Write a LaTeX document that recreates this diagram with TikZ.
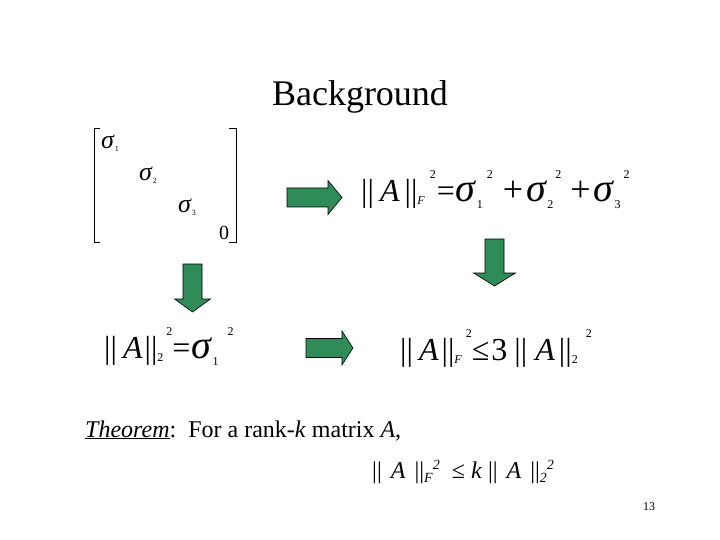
\documentclass[tikz,border=0pt]{standalone}
\usepackage{fontspec}
\setmainfont{Liberation Serif}
\usetikzlibrary{positioning}
\definecolor{arrowgreen}{RGB}{47,139,87}
\newcommand{\lo}[1]{\raisebox{-3pt}{\fontsize{12}{12}\selectfont #1}}
\newcommand{\slo}[1]{\raisebox{-7pt}{\fontsize{12}{12}\selectfont #1}}
\newcommand{\hi}[1]{\raisebox{23pt}{\fontsize{12}{12}\selectfont #1}}
\newcommand{\sig}{{\fontsize{40}{40}\selectfont\textit{σ}}}
\newcommand{\bigop}[1]{{\fontsize{36}{36}\selectfont #1}}
\newcommand{\msig}{{\fontsize{26}{26}\selectfont\textit{σ}}}
\newcommand{\tinysub}[1]{\raisebox{-3pt}{\fontsize{8}{8}\selectfont #1}}
\newcommand{\thlo}[1]{\raisebox{-4pt}{\fontsize{14}{14}\selectfont #1}}
\newcommand{\thhi}[1]{\raisebox{9pt}{\fontsize{14}{14}\selectfont #1}}
\tikzset{fat/.style={draw=black,line width=0.6pt,fill=arrowgreen},
  pics/fatarrow/.style n args={3}{code={
    \draw[fat] (0,-9.5) -- (#1-#3,-9.5) -- (#1-#3,-#2) -- (#1,0)
      -- (#1-#3,#2) -- (#1-#3,9.5) -- (0,9.5) -- cycle;}}}
\tikzstyle{eq}    = [inner sep=0pt,anchor=base west,font=\fontsize{32}{32}\selectfont]
\tikzstyle{entry} = [inner sep=0pt,anchor=base west,font=\fontsize{20}{20}\selectfont]
\tikzstyle{body}  = [inner sep=0pt,anchor=base west,font=\fontsize{24}{24}\selectfont]
\tikzstyle{bracket} = [line width=0.8pt]

\begin{document}
\begin{tikzpicture}[x=1pt,y=-1pt]
		\useasboundingbox (0,0) rectangle (720,540);
		\node[inner sep=0pt,anchor=base,font=\fontsize{36}{36}\selectfont] (title) at (360,106) {Background};

		\draw[bracket] (100,128) -- (94,128) -- (94,242) -- (100,242);
		\draw[bracket] (229,128) -- (236,128) -- (236,242) -- (229,242);
		\node[entry] (s1) at (101,149) {\msig\tinysub{1}};
		\node[entry] (s2) at (139,181) {\msig\tinysub{2}};
		\node[entry] (s3) at (178,212) {\msig\tinysub{3}};
		\node[entry] (zero) at (219,240) {0};

		\node[eq] (normF) at (361,202)
			{||\kern6pt\textit{A}\kern5pt||\lo{\textit{F}}\kern5pt\hi{2}\kern1pt=\kern1pt\sig\slo{1}\kern4pt\hi{2}\kern10pt\bigop{+}\kern3pt\sig\slo{2}\kern2pt\hi{2}\kern9pt\bigop{+}\kern3pt\sig\slo{3}\kern3pt\hi{2}};
		\node[eq] (normTwo) at (104,358)
			{||\kern6pt\textit{A}\kern2pt||\lo{2}\kern3pt\hi{2}=\kern1pt\sig\slo{1}\kern9pt\hi{2}};
		\node[eq] (bound) at (400,360)
			{||\kern6pt\textit{A}\kern3pt||\lo{\textit{F}}\kern4pt\hi{2}≤\kern2pt3\kern7pt||\kern8pt\textit{A}\kern4pt||\lo{2}\kern8pt\hi{2}};

		\pic at (287,197.5) {fatarrow={55}{17}{14}};
		\pic at (306,348) {fatarrow={47}{17}{11}};
		\pic[rotate=-90] at (192.5,264) {fatarrow={48}{18}{13}};
		\pic[rotate=-90] at (494.5,239) {fatarrow={47}{21}{13}};

		\node[body] (thm) at (85,437)
			{\underline{\textit{Theorem}}:\ \ For a rank-\textit{k} matrix \textit{A},};
		\node[body] (thmeq) at (372,478)
			{||\kern9pt\textit{A}\kern9pt||\thlo{\textit{F}}\thhi{\textit{2}}\ \ ≤\ \textit{k}\ ||\kern9pt\textit{A}\kern9pt||\thlo{\textit{2}}\thhi{\textit{2}}};
		\node[inner sep=0pt,anchor=base west,font=\fontsize{12}{12}\selectfont] (pagenum) at (643,510) {13};
	\end{tikzpicture}
\end{document}
